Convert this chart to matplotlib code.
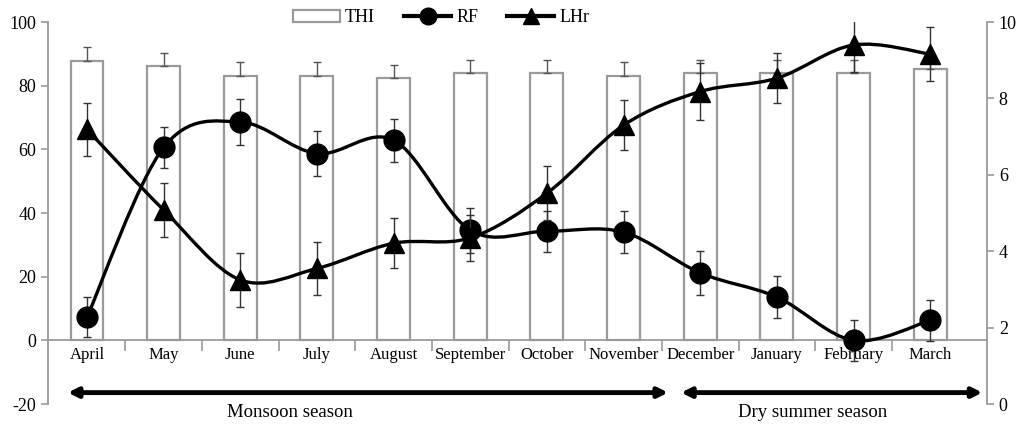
import matplotlib
matplotlib.use("Agg")
import matplotlib.pyplot as plt
import numpy as np
from matplotlib.path import Path
from matplotlib.patches import PathPatch, Patch
from matplotlib.lines import Line2D

plt.rcParams['font.family'] = ['Liberation Serif', 'DejaVu Serif']
plt.rcParams['axes.unicode_minus'] = False

months = ['April', 'May', 'June', 'July', 'August', 'September', 'October',
          'November', 'December', 'January', 'February', 'March']
thi = [87.8, 86.2, 83.0, 83.0, 82.3, 84.0, 84.0, 83.0, 84.0, 84.0, 84.0, 85.4]
thi_err = [4.5, 4.0, 4.3, 4.3, 4.2, 4.0, 4.0, 4.3, 4.0, 4.0, 4.0, 4.2]
rf = [7.3, 60.6, 68.6, 58.7, 62.9, 34.6, 34.3, 34.0, 21.2, 13.6, 0.0, 6.3]
rf_err = [6.3, 6.3, 7.2, 7.2, 6.8, 7.0, 6.5, 6.5, 7.0, 6.5, 6.5, 6.5]
lhr = [7.19, 5.08, 3.25, 3.55, 4.21, 4.35, 5.52, 7.30, 8.18, 8.53, 9.40, 9.16]
lhr_err = [0.7, 0.7, 0.7, 0.7, 0.66, 0.6, 0.7, 0.66, 0.75, 0.66, 0.7, 0.7]
seasons = [('Monsoon season', 0, 7), ('Dry summer season', 8, 11)]

GRAY = '#9a9a9a'


def smooth_path(x, y):
    # Excel-style smoothed line: Catmull-Rom converted to cubic Bezier segments
    n = len(x)
    verts = [(x[0], y[0])]
    codes = [Path.MOVETO]
    for i in range(n - 1):
        a = max(i - 1, 0)
        b = min(i + 2, n - 1)
        c1 = (x[i] + (x[i + 1] - x[a]) / 6, y[i] + (y[i + 1] - y[a]) / 6)
        c2 = (x[i + 1] - (x[b] - x[i]) / 6, y[i + 1] - (y[b] - y[i]) / 6)
        verts += [c1, c2, (x[i + 1], y[i + 1])]
        codes += [Path.CURVE4] * 3
    return Path(verts, codes)


fig = plt.figure(figsize=(10.19, 4.24), dpi=100)
ax = fig.add_axes([0.047, 0.047, 0.9216, 0.901])
ax2 = ax.twinx()

x = np.arange(len(months))

ax.bar(x, thi, width=0.43, color='white', edgecolor=GRAY, linewidth=1.6,
       yerr=[np.zeros(len(thi)), thi_err],
       error_kw=dict(ecolor='#555555', elinewidth=1, capsize=3, capthick=1),
       zorder=2)

ax.add_patch(PathPatch(smooth_path(x, rf), fill=False, edgecolor='black',
                       linewidth=2.4, zorder=3))
ax.errorbar(x, rf, yerr=rf_err, fmt='o', color='black', markersize=15,
            ecolor='#333333', elinewidth=1, capsize=3, capthick=1, zorder=4)

ax2.add_patch(PathPatch(smooth_path(x, lhr), fill=False, edgecolor='black',
                        linewidth=2.4, zorder=3))
ax2.errorbar(x, lhr, yerr=lhr_err, fmt='^', color='black', markersize=14,
             ecolor='#333333', elinewidth=1, capsize=3, capthick=1, zorder=4)

ax.set_xlim(-0.51, 11.74)
ax.set_ylim(-20, 100)
ax2.set_ylim(0, 10)

ax.set_yticks(np.arange(-20, 101, 20))
ax2.set_yticks(np.arange(0, 11, 2))
ax.set_xticks(x)
ax.set_xticklabels(months)
ax.set_xticks(x[:-1] + 0.5, minor=True)
ax.tick_params(axis='x', which='major', length=0, pad=5, labelsize=12)
ax.tick_params(axis='x', which='minor', length=8, color=GRAY, width=1.2)
ax.tick_params(axis='y', labelsize=13, color=GRAY, length=5, width=1.2)
ax2.tick_params(axis='y', labelsize=13, color=GRAY, length=5, width=1.2)

ax.spines['bottom'].set_position(('data', 0))
for sp in ['top', 'right']:
    ax.spines[sp].set_visible(False)
for sp in ['top', 'left', 'bottom']:
    ax2.spines[sp].set_visible(False)
for s in [ax.spines['left'], ax.spines['bottom'], ax2.spines['right']]:
    s.set_color(GRAY)
    s.set_linewidth(1.3)

# season arrows below the month labels
for label, start, end in seasons:
    ax.annotate('', xy=(start - 0.25, -16.4), xytext=(end + 0.58 if end < 11 else end + 0.68, -16.4),
                arrowprops=dict(arrowstyle='<|-|>', color='black', lw=3.5,
                                mutation_scale=14, shrinkA=0, shrinkB=0),
                annotation_clip=False)
    ax.text((start + end) / 2 + (-0.85 if start == 0 else -0.03), -22.6, label,
            ha='center', va='center', fontsize=13.5, clip_on=False)

handles = [Patch(facecolor='white', edgecolor=GRAY, linewidth=1.6, label='THI'),
           Line2D([], [], color='black', lw=3, marker='o', markersize=12, label='RF'),
           Line2D([], [], color='black', lw=3, marker='^', markersize=12, label='LHr')]
fig.legend(handles=handles, loc='center', bbox_to_anchor=(0.433, 0.958), ncol=3,
           frameon=False, fontsize=13, handlelength=2.6, handletextpad=0.3,
           columnspacing=1.6)

fig.savefig('out.png', dpi=100)
